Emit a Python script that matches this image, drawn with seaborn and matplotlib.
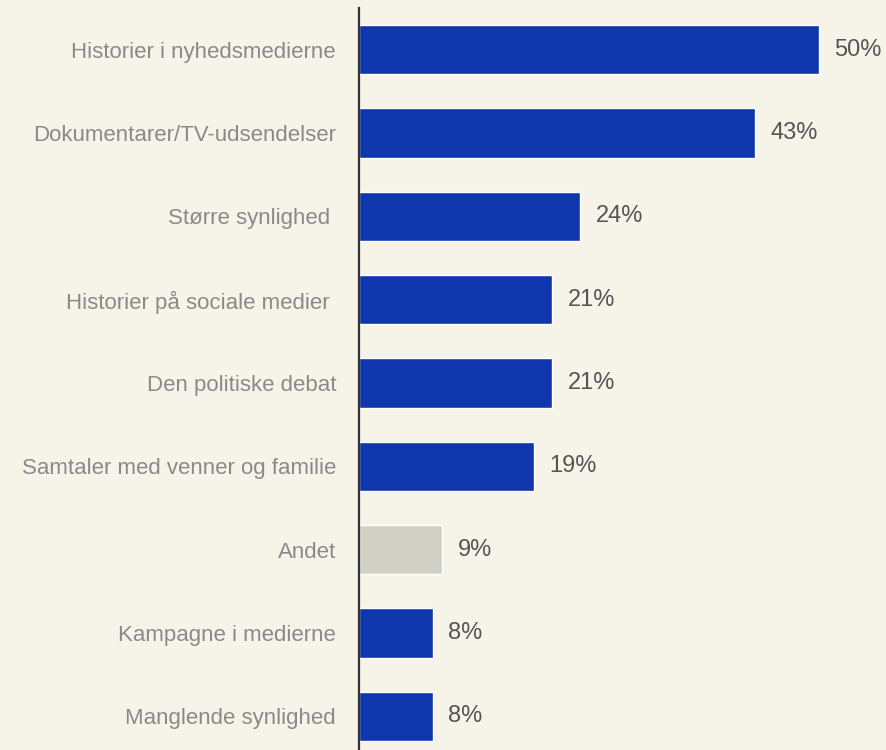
import pandas as pd
import seaborn as sns
import matplotlib.pyplot as plt

# data
kategorier = ["Historier i nyhedsmedierne", "Dokumentarer/TV-udsendelser",
              "Større synlighed ", "Historier på sociale medier ",
              "Den politiske debat", "Samtaler med venner og familie",
              "Andet", "Kampagne i medierne", "Manglende synlighed"]
andele = [50, 43, 24, 21, 21, 19, 9, 8, 8]
farver = ["#1036ad"] * 6 + ["#d0d0c4"] + ["#1036ad"] * 2

bg = "#f6f3e9"
sns.set_theme(style="white")
plt.rcParams['font.family'] = ['Liberation Sans', 'DejaVu Sans']

df = pd.DataFrame({"kategori": kategorier, "andel": andele})

fig = plt.figure(figsize=(8.87, 7.5), dpi=100, facecolor=bg)
ax = fig.add_axes([359 / 887, 1 - 758 / 750, 1 - 359 / 887, 750 / 750])
ax.set_facecolor(bg)

sns.barplot(data=df, x="andel", y="kategori", hue="kategori", palette=farver,
            legend=False, width=0.59, ax=ax, saturation=1)

ax.set_xlim(0, 57.4)
ax.set_xlabel("")
ax.set_ylabel("")
ax.set_xticks([])
for s in ["top", "right", "bottom"]:
    ax.spines[s].set_visible(False)
ax.spines["left"].set_color("#333333")
ax.spines["left"].set_linewidth(1.6)

ax.tick_params(axis="y", length=0, pad=16.5, labelsize=16, labelcolor="#8a8a8a")

# procent-etiketter
for i, v in enumerate(andele):
    ax.text(v + 1.7, i, f"{v}%", va="center", ha="left",
            fontsize=17, color="#555555")

fig.savefig("out.png", dpi=100, facecolor=bg)
